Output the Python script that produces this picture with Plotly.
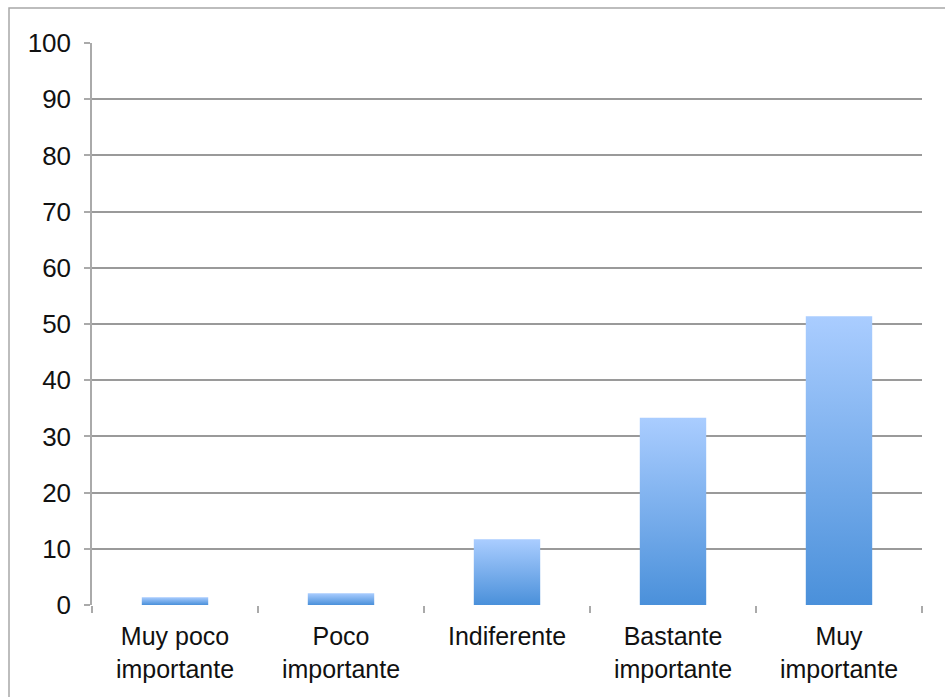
import plotly.graph_objects as go

# Survey answers: share of respondents (%) per importance level
categories = ["Muy poco<br>importante", "Poco<br>importante", "Indiferente",
              "Bastante<br>importante", "Muy<br>importante"]
values = [1.4, 2.1, 11.7, 33.3, 51.4]
y_ticks = [0, 10, 20, 30, 40, 50, 60, 70, 80, 90, 100]

BAR_HALF = 0.2
GRID = "#9a9a9a"
FONT = "Liberation Sans, Arial, Helvetica, sans-serif"

fig = go.Figure()

# Each bar is a filled polygon so it can carry a vertical gradient
for i, v in enumerate(values):
    fig.add_trace(go.Scatter(
        x=[i - BAR_HALF, i + BAR_HALF, i + BAR_HALF, i - BAR_HALF, i - BAR_HALF],
        y=[0, 0, v, v, 0],
        mode="lines",
        line=dict(width=0),
        fill="toself",
        fillgradient=dict(type="vertical",
                          colorscale=[[0, "#4a90da"], [1, "#aacdff"]]),
        hoverinfo="skip",
        showlegend=False,
    ))

# Invisible trace that puts tick marks on category boundaries
fig.add_trace(go.Scatter(x=[-0.5, 4.5], y=[0, 0], xaxis="x2", mode="none",
                         showlegend=False, hoverinfo="skip"))

fig.update_layout(
    width=945, height=697,
    margin=dict(l=92, r=23, t=43, b=92),
    paper_bgcolor="white", plot_bgcolor="white",
    font=dict(family=FONT, size=25, color="#111111"),
    xaxis=dict(
        range=[-0.5, 4.5],
        tickvals=list(range(len(categories))),
        ticktext=categories,
        tickfont=dict(size=25),
        showgrid=False, zeroline=False, showline=False,
        ticks="", ticklabelstandoff=14,
        fixedrange=True,
    ),
    xaxis2=dict(
        range=[-0.5, 4.5], overlaying="x", anchor="y",
        tickvals=[-0.5, 0.5, 1.5, 2.5, 3.5, 4.5],
        showticklabels=False, ticks="outside", ticklen=7,
        tickcolor="#aaaaaa", tickwidth=1.5,
        showgrid=False, zeroline=False, showline=False,
    ),
    yaxis=dict(
        range=[0, 100],
        tickvals=y_ticks,
        tickfont=dict(size=26),
        showgrid=True, gridcolor=GRID, gridwidth=1.8,
        zeroline=False,
        showline=True, linecolor="#aaaaaa", linewidth=1.5,
        ticks="outside", ticklen=6, tickcolor="#aaaaaa", tickwidth=1.5,
        ticklabelstandoff=8,
        fixedrange=True,
    ),
)

# Chart frame (only its top and left edges fall inside the page)
fig.add_shape(type="rect", xref="paper", yref="paper",
              x0=-0.1, x1=1.05, y0=-0.2, y1=1.0623,
              line=dict(color="#a8a8a8", width=1.5), layer="below")

fig.write_html("out.html")
